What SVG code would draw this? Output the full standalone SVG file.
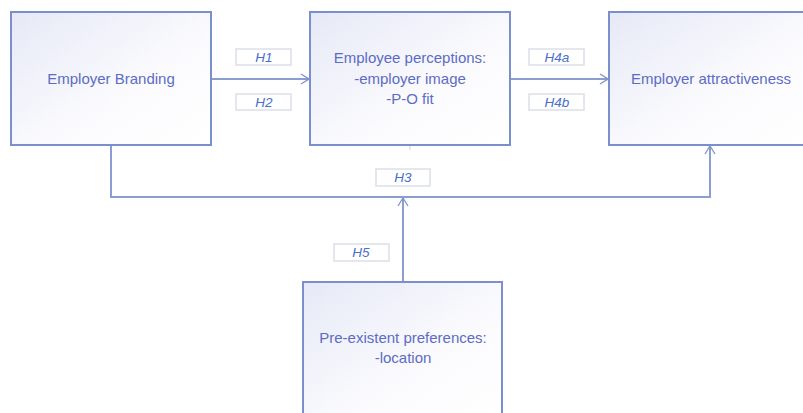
<svg xmlns="http://www.w3.org/2000/svg" width="803" height="413" viewBox="0 0 803 413">
<defs>
<linearGradient id="g" x1="0" y1="0" x2="1" y2="1">
<stop offset="0" stop-color="#e6e9f6"/>
<stop offset="0.6" stop-color="#fbfbfe"/>
<stop offset="1" stop-color="#ffffff"/>
</linearGradient>
<marker id="arr" markerWidth="10" markerHeight="12" refX="9" refY="6" orient="auto" markerUnits="userSpaceOnUse">
<path d="M1,1 L9,6 L1,11" fill="none" stroke="#8094cc" stroke-width="1.3"/>
</marker>
<style>
.box{fill:url(#g);stroke:#7a8fcb;stroke-width:2}
.t{font-family:"Liberation Sans",Arial,sans-serif;font-size:15px;fill:#5c6cc4;text-anchor:middle}
.lb{fill:#ffffff;stroke:#dcdfe8;stroke-width:1.5}
.lt{font-family:"Liberation Sans",Arial,sans-serif;font-size:13.5px;font-style:italic;fill:#4a6ecb;text-anchor:middle}
.c{fill:none;stroke:#8a9fd0;stroke-width:2}
</style>
</defs>
<g id="connectors">
<line class="c" x1="211" y1="79" x2="309" y2="79" marker-end="url(#arr)"/>
<line class="c" x1="510" y1="79" x2="608" y2="79" marker-end="url(#arr)"/>
<polyline class="c" points="111,146 111,197 710,197 710,146" marker-end="url(#arr)"/>
<line class="c" x1="403" y1="282" x2="403" y2="198" marker-end="url(#arr)"/>
<line x1="410" y1="146" x2="410" y2="150" stroke="#c8cfe4" stroke-width="1"/>
</g>
<g id="labels">
<rect class="lb" x="236" y="49" width="55" height="16"/><text class="lt" x="264" y="62">H1</text>
<rect class="lb" x="236" y="94" width="55" height="16"/><text class="lt" x="264" y="107">H2</text>
<rect class="lb" x="529" y="49" width="55" height="16"/><text class="lt" x="557" y="62">H4a</text>
<rect class="lb" x="529" y="94" width="55" height="16"/><text class="lt" x="557" y="107">H4b</text>
<rect class="lb" x="376" y="169" width="54" height="17"/><text class="lt" x="403" y="182">H3</text>
<rect class="lb" x="334" y="244" width="55" height="17"/><text class="lt" x="361" y="257">H5</text>
</g>
<g id="employer-branding">
<rect class="box" x="11" y="12" width="200" height="133"/>
<text class="t" x="111" y="84">Employer Branding</text>
</g>
<g id="employee-perceptions">
<rect class="box" x="310" y="12" width="200" height="133"/>
<text class="t" x="410" y="63">Employee perceptions:</text>
<text class="t" x="410" y="84">-employer image</text>
<text class="t" x="410" y="104">-P-O fit</text>
</g>
<g id="employer-attractiveness">
<rect class="box" x="609" y="12" width="200" height="133"/>
<text class="t" x="711" y="84">Employer attractiveness</text>
</g>
<g id="pre-existent-preferences">
<rect class="box" x="303" y="282" width="199" height="140"/>
<text class="t" x="403" y="343">Pre-existent preferences:</text>
<text class="t" x="403" y="363">-location</text>
</g>
</svg>
